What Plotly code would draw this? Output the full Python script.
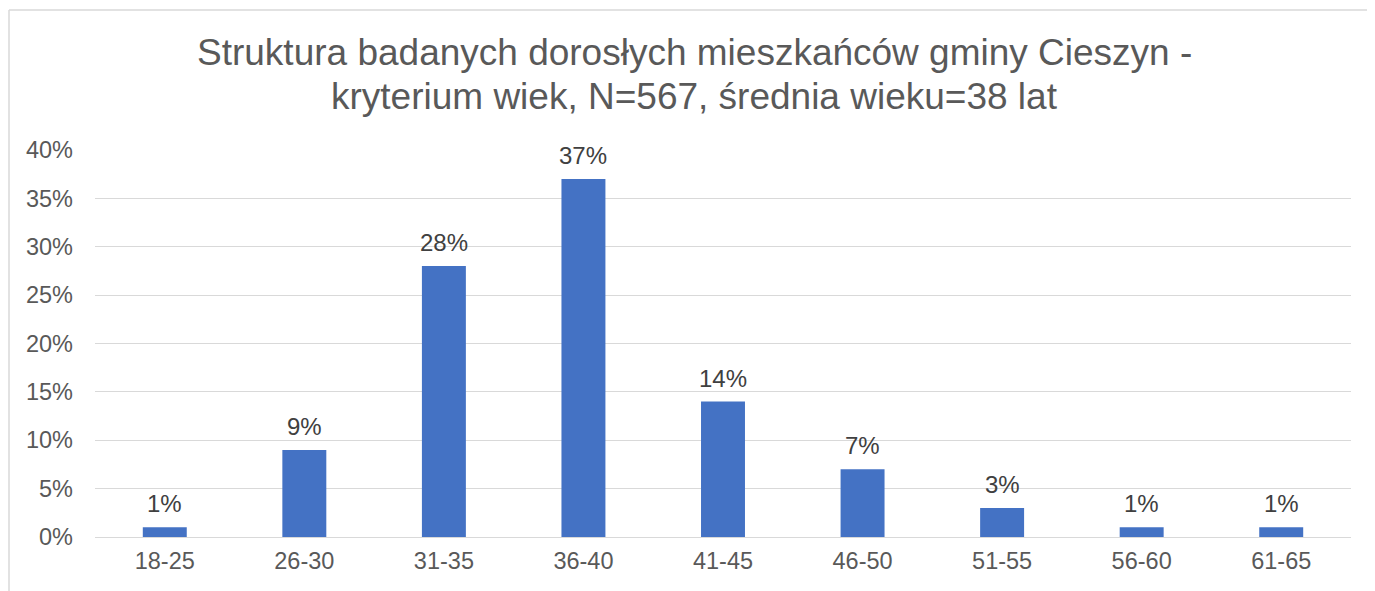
import plotly.graph_objects as go

categories = ["18-25", "26-30", "31-35", "36-40", "41-45", "46-50", "51-55", "56-60", "61-65"]
values = [0.01, 0.09, 0.28, 0.37, 0.14, 0.07, 0.03, 0.01, 0.01]
y_ticks = [0, 0.05, 0.10, 0.15, 0.20, 0.25, 0.30, 0.35, 0.40]
y_tick_labels = ["0%", "5%", "10%", "15%", "20%", "25%", "30%", "35%", "40%"]
title_lines = ["Struktura badanych dorosłych mieszkańców gminy Cieszyn -",
               "kryterium wiek, N=567, średnia wieku=38 lat"]

# page body has an 8px margin; compensate
OFF = 8
W, H = 1375 - OFF, 591 - OFF
L, R, T, B = 95 - OFF, 24, 150 - OFF, 54
pw, ph = W - L - R, H - T - B

FONT = "Liberation Sans, Arial"

fig = go.Figure()
fig.add_trace(go.Bar(
    x=categories, y=values,
    marker=dict(color="#4472C4", line=dict(width=0)),
    cliponaxis=False,
    hoverinfo="x+y",
))

def px_x(px):
    return (px - OFF - L) / pw

def px_y(py):
    return (H - B - (py - OFF)) / ph

annotations = []
for c, v in zip(categories, values):
    annotations.append(dict(
        x=c, y=v, xref="x", yref="y",
        text=f"{round(v*100)}%", showarrow=False,
        yanchor="bottom", yshift=8,
        font=dict(family=FONT, size=24, color="#404040"),
    ))

title_y = [52, 96]
for line, yy in zip(title_lines, title_y):
    annotations.append(dict(
        x=px_x(694), y=px_y(yy), xref="paper", yref="paper",
        text=line, showarrow=False, xanchor="center", yanchor="middle",
        font=dict(family=FONT, size=37, color="#595959"),
    ))

fig.update_layout(
    width=W, height=H,
    margin=dict(l=L, r=R, t=T, b=B),
    paper_bgcolor="white", plot_bgcolor="white",
    bargap=0.685,
    showlegend=False,
    font=dict(family=FONT, color="#595959"),
    xaxis=dict(
        showgrid=False, showline=False, zeroline=False,
        tickfont=dict(size=23.5, color="#595959"),
        ticklabelstandoff=7,
    ),
    yaxis=dict(
        range=[0, 0.40],
        tickvals=y_ticks, ticktext=y_tick_labels,
        showgrid=True, gridcolor="#d9d9d9", gridwidth=1.2,
        zeroline=True, zerolinecolor="#d9d9d9", zerolinewidth=1.2,
        showline=False,
        tickfont=dict(size=23.5, color="#595959"),
        ticklabelstandoff=21,
    ),
    annotations=annotations,
    shapes=[
        dict(type="line", xref="paper", yref="paper",
             x0=px_x(9), x1=px_x(1400), y0=px_y(10), y1=px_y(10),
             line=dict(color="#d9d9d9", width=1.5)),
        dict(type="line", xref="paper", yref="paper",
             x0=px_x(9), x1=px_x(9), y0=px_y(10), y1=px_y(620),
             line=dict(color="#d9d9d9", width=1.5)),
    ],
)

fig.write_html("out.html")
